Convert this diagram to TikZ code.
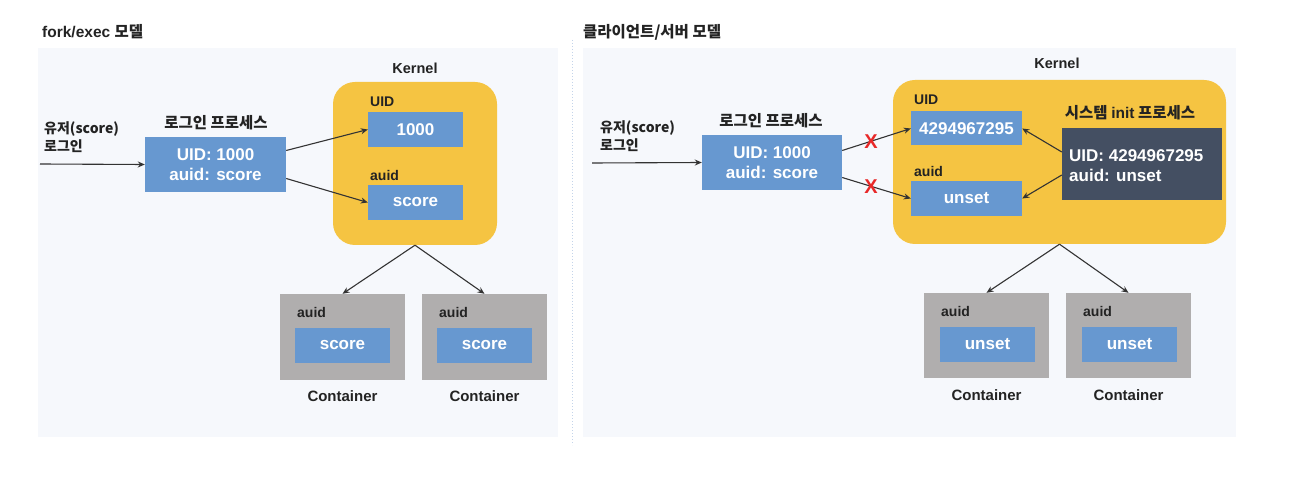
\documentclass[tikz,border=0pt]{standalone}
\usepackage{fontspec}
\setmainfont{Liberation Sans}
\newfontfamily\kr{Noto Sans CJK KR}
\usetikzlibrary{arrows.meta}
\definecolor{valblue}{RGB}{103,152,208}
\definecolor{kyellow}{RGB}{245,196,66}
\definecolor{cgray}{RGB}{176,174,174}
\definecolor{initdark}{RGB}{68,79,98}
\definecolor{panelbg}{RGB}{246,248,252}
\definecolor{sepblue}{RGB}{196,212,234}
\definecolor{txt}{RGB}{35,35,35}
\definecolor{xred}{RGB}{232,40,40}
\begin{document}
\begin{tikzpicture}[x=1pt,y=-1pt,
  valbox/.style={fill=valblue,text=white,font=\fontsize{17}{20}\selectfont\bfseries,inner sep=0pt,anchor=center},
  kernelbox/.style={fill=kyellow,rounded corners=22pt,inner sep=0pt},
  contbox/.style={fill=cgray,inner sep=0pt,minimum width=125pt},
  initbox/.style={fill=initdark,inner sep=0pt},
  lbl/.style={text=txt,font=\fontsize{14}{16}\selectfont\bfseries,inner sep=0pt},
  ttl/.style={text=txt,font=\fontsize{15.5}{18}\selectfont\bfseries,inner sep=0pt},
  krlbl/.style={text=txt,font=\kr\fontsize{15.5}{19}\selectfont\bfseries,inner sep=0pt},
  userlbl/.style={text=txt,font=\kr\fontsize{14}{18}\selectfont\bfseries,inner sep=0pt},
  conn/.style={draw=black!80,line width=1.1pt,-{Stealth[length=7pt,width=6pt]}},
  xmark/.style={text=xred,font=\fontsize{20}{20}\selectfont\bfseries,inner sep=0pt}
]
\useasboundingbox (0,0) rectangle (1304,478);
\fill[white] (0,0) rectangle (1304,478);
% panels
\fill[panelbg] (38,48) rectangle (558,437);
\fill[panelbg] (583,48) rectangle (1236,437);
\draw[sepblue,line width=1pt,dotted] (572,40) -- (572,445);
% titles
\node[ttl,anchor=west] (t1) at (42,32) {fork/exec {\kr 모델}};
\node[ttl,font=\kr\fontsize{15.5}{18}\selectfont\bfseries,anchor=west] (t2) at (583,32) {클라이언트/서버 모델};

% ---------- left ----------
\node[kernelbox,minimum width=164pt,minimum height=163pt] (k1) at (415,163.5) {};
\node[lbl,font=\fontsize{14.5}{16}\selectfont\bfseries] (k1l) at (415,68) {Kernel};
\node[lbl,anchor=west] (uidl1) at (370,102) {UID};
\node[valbox,minimum width=95pt,minimum height=35pt] (uid1) at (415.5,129.5) {1000};
\node[lbl,anchor=west] (auidl1) at (370,175) {auid};
\node[valbox,minimum width=95pt,minimum height=35pt] (auid1) at (415.5,202.5) {score};

\node[krlbl] (lpl1) at (216,123) {로그인 프로세스};
\node[valbox,minimum width=141pt,minimum height=55pt,align=center] (lp1) at (215.5,164.5) {UID: 1000\\auid: score};
\node[userlbl,anchor=west,align=left] (u1) at (44,137) {유저(score)\\로그인};
\coordinate (u1s) at (40,164);
\draw[conn] (u1s) -- (lp1.west);
\draw[conn] ([yshift=14pt]lp1.east) -- (uid1.west);
\draw[conn] ([yshift=-14pt]lp1.east) -- (auid1.west);

\node[contbox,minimum height=86pt] (c1) at (342.5,337) {};
\node[lbl,anchor=west] (c1a) at (297,312) {auid};
\node[valbox,minimum width=95pt,minimum height=35pt] (c1v) at (342.5,345.5) {score};
\node[lbl,font=\fontsize{15}{17}\selectfont\bfseries] (c1l) at (342.5,396) {Container};
\node[contbox,minimum height=86pt] (c2) at (484.5,337) {};
\node[lbl,anchor=west] (c2a) at (439,312) {auid};
\node[valbox,minimum width=95pt,minimum height=35pt] (c2v) at (484.5,345.5) {score};
\node[lbl,font=\fontsize{15}{17}\selectfont\bfseries] (c2l) at (484.5,396) {Container};
\draw[conn] (k1.south) -- (c1.north);
\draw[conn] (k1.south) -- (c2.north);

% ---------- right ----------
\node[kernelbox,minimum width=333pt,minimum height=164pt] (k2) at (1059.5,162) {};
\node[lbl,font=\fontsize{14.5}{16}\selectfont\bfseries] (k2l) at (1057,63) {Kernel};
\node[lbl,anchor=west] (uidl2) at (914,100) {UID};
\node[valbox,minimum width=111pt,minimum height=34pt] (uid2) at (966.5,128.5) {4294967295};
\node[lbl,anchor=west] (auidl2) at (914,171) {auid};
\node[valbox,minimum width=111pt,minimum height=35pt] (auid2) at (966.5,198.5) {unset};
\node[krlbl] (initl) at (1130,113) {시스템 {\rmfamily init} 프로세스};
\node[initbox,minimum width=160pt,minimum height=72pt] (init) at (1142,164) {};
\node[valbox,anchor=west,align=left,fill=none] (initt) at (1069,166) {UID: 4294967295\\auid: unset};

\node[krlbl] (lpl2) at (771,121) {로그인 프로세스};
\node[valbox,minimum width=140pt,minimum height=55pt,align=center] (lp2) at (772,162.5) {UID: 1000\\auid: score};
\node[userlbl,anchor=west,align=left] (u2) at (600,136) {유저(score)\\로그인};
\coordinate (u2s) at (592,163);
\draw[conn] (u2s) -- (lp2.west);
\draw[conn] ([yshift=12pt]lp2.east) -- node[xmark,pos=0.42] (x1) {X} (uid2.west);
\draw[conn] ([yshift=-15pt]lp2.east) -- node[xmark,pos=0.42] (x2) {X} (auid2.west);
\draw[conn] ([yshift=12pt]init.west) -- (uid2.east);
\draw[conn] ([yshift=-11pt]init.west) -- (auid2.east);

\node[contbox,minimum height=85pt] (c3) at (986.5,335.5) {};
\node[lbl,anchor=west] (c3a) at (941,311) {auid};
\node[valbox,minimum width=95pt,minimum height=35pt] (c3v) at (987.5,344.5) {unset};
\node[lbl,font=\fontsize{15}{17}\selectfont\bfseries] (c3l) at (986.5,395) {Container};
\node[contbox,minimum height=85pt] (c4) at (1128.5,335.5) {};
\node[lbl,anchor=west] (c4a) at (1083,311) {auid};
\node[valbox,minimum width=95pt,minimum height=35pt] (c4v) at (1129.5,344.5) {unset};
\node[lbl,font=\fontsize{15}{17}\selectfont\bfseries] (c4l) at (1128.5,395) {Container};
\draw[conn] (k2.south) -- (c3.north);
\draw[conn] (k2.south) -- (c4.north);
\end{tikzpicture}
\end{document}
